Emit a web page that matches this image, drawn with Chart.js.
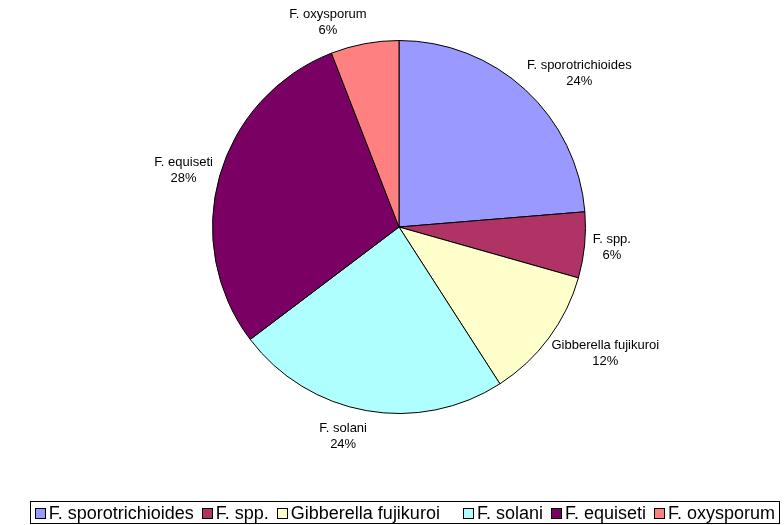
<!DOCTYPE html>
<html>
<head>
<meta charset="utf-8">
<script src="https://cdn.jsdelivr.net/npm/chart.js@4.4.1/dist/chart.umd.min.js"></script>
<style>
  html, body { margin: 0; background: #fff; }
  #wrap { width: 784px; height: 525px; position: relative; }
</style>
</head>
<body>
<div id="wrap"><canvas id="paj"></canvas></div>
<script>
// kategorinamn som i originalet (Gibberella har extra blanksteg efter sig i förklaringen)
const arter = ['F. sporotrichioides', 'F. spp.', 'Gibberella fujikuroi   ', 'F. solani', 'F. equiseti', 'F. oxysporum'];
// andelar avlästa från tårtbitarnas vinklar
const andelar = [23.7, 5.7, 11.5, 23.8, 29.4, 5.9];
const procentText = ['24%', '6%', '12%', '24%', '28%', '6%'];
const farger = ['#9999FF', '#B03366', '#FFFFCC', '#B0FFFF', '#7A0064', '#FF8080'];

const typsnitt = '"Liberation Sans", Arial, sans-serif';

// etiketter utanför varje tårtbit
const etikettPlugin = {
  id: 'etiketter',
  afterDatasetsDraw(chart) {
    const ctx = chart.ctx;
    const meta = chart.getDatasetMeta(0);
    ctx.save();
    ctx.font = '13px ' + typsnitt;
    ctx.fillStyle = '#000';
    ctx.textAlign = 'center';
    ctx.textBaseline = 'middle';
    const radH = 16;
    meta.data.forEach((arc, i) => {
      const p = arc.getProps(['x', 'y', 'startAngle', 'endAngle', 'outerRadius'], true);
      const namn = arter[i].trim();
      const mitt = (p.startAngle + p.endAngle) / 2;
      const ux = Math.cos(mitt), uy = Math.sin(mitt);
      const ax = p.x + ux * (p.outerRadius + 10);
      const ay = p.y + uy * (p.outerRadius + 10);
      const w = Math.max(ctx.measureText(namn).width, ctx.measureText(procentText[i]).width);
      const cx = ax + Math.sign(ux) * w / 2 * 0.9;
      const cy = ay + uy * radH * (uy < 0 ? 0.75 : 1);
      ctx.fillText(namn, cx, cy - radH / 2);
      ctx.fillText(procentText[i], cx, cy + radH / 2);
    });
    ctx.restore();
  }
};

// förklaring med ram längst ner
const forklaringPlugin = {
  id: 'forklaring',
  afterDraw(chart) {
    const ctx = chart.ctx;
    ctx.save();
    ctx.font = '18px ' + typsnitt;
    const ruta = 10, mellan = 4, luft = 8;
    let total = 0;
    const bredder = arter.map(t => ctx.measureText(t).width);
    bredder.forEach((b, i) => { total += ruta + mellan + b + (i < arter.length - 1 ? luft : 0); });
    const hoger = chart.width - 9;
    let x = hoger - total;
    const yMitt = 513;
    ctx.strokeStyle = '#000';
    ctx.lineWidth = 1;
    ctx.strokeRect(Math.round(x - 5) + 0.5, 501.5, Math.round(total + 9), 22);
    ctx.textBaseline = 'middle';
    ctx.textAlign = 'left';
    arter.forEach((t, i) => {
      ctx.fillStyle = farger[i];
      ctx.fillRect(Math.round(x) + 0.5, yMitt - 5 + 0.5, ruta, ruta);
      ctx.strokeRect(Math.round(x) + 0.5, yMitt - 5 + 0.5, ruta, ruta);
      ctx.fillStyle = '#000';
      ctx.fillText(t, x + ruta + mellan, yMitt + 1);
      x += ruta + mellan + bredder[i] + luft;
    });
    ctx.restore();
  }
};

new Chart(document.getElementById('paj'), {
  type: 'pie',
  data: {
    labels: arter,
    datasets: [{
      data: andelar,
      backgroundColor: farger,
      borderColor: '#000',
      borderWidth: 1
    }]
  },
  options: {
    responsive: true,
    maintainAspectRatio: false,
    animation: false,
    layout: { padding: { left: 14, right: 0, top: 40, bottom: 111 } },
    plugins: {
      legend: { display: false },
      tooltip: { enabled: false }
    }
  },
  plugins: [etikettPlugin, forklaringPlugin]
});
</script>
</body>
</html>
